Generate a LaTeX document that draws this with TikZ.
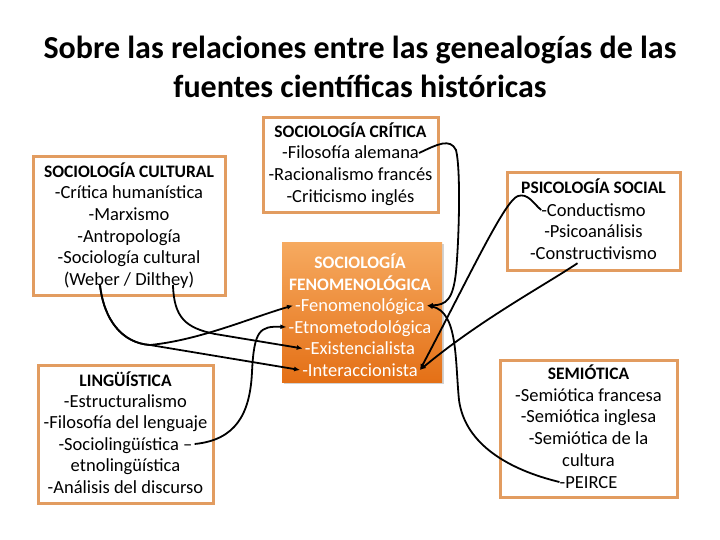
\documentclass[tikz,border=0pt]{standalone}
\usepackage{fontspec}
\setmainfont{Carlito}
\usetikzlibrary{arrows.meta, shadows}
\definecolor{boxorange}{RGB}{226,156,96}
\definecolor{fentop}{RGB}{246,170,96}
\definecolor{fenbot}{RGB}{228,112,22}
\tikzset{
  framebox/.style={draw=boxorange, line width=3pt, fill=white},
  fenbox/.style={draw=none, top color=fentop, bottom color=fenbot,
                 drop shadow={opacity=0.35, shadow xshift=2pt, shadow yshift=-2pt}},
  itemtext/.style={inner sep=0pt, text height=12pt, text depth=0pt,
                   font=\fontsize{18.5}{20}\selectfont},
  headtext/.style={itemtext, font=\fontsize{17.5}{20}\selectfont\bfseries},
  titletext/.style={inner sep=0pt, anchor=base, font=\fontsize{32}{39}\selectfont\bfseries},
  link/.style={line width=1.8pt, -{Latex[length=6pt,width=5pt]}},
}

\begin{document}
\begin{tikzpicture}[x=1pt, y=-1pt]
  \fill[white] (0,0) rectangle (720,540);
  \useasboundingbox (0,0) rectangle (720,540);

  % title
  \node[titletext] (title1) at (360,59) {Sobre las relaciones entre las genealogías de las};
  \node[titletext] (title2) at (360,98) {fuentes científicas históricas};

  % sociologia cultural
  \node[framebox, minimum width=192pt, minimum height=138pt] (cultbox) at (129,226) {};
  \node[headtext] (culthead) at (129,172) {SOCIOLOGÍA CULTURAL};
  \foreach \txt [count=\i] in {-Crítica humanística, -Marxismo, -Antropología,
      -Sociología cultural, (Weber / Dilthey)}
    \node[itemtext] (cult\i) at (129,{171.5+21.5*\i}) {\txt};

  % sociologia critica
  \node[framebox, minimum width=175pt, minimum height=95pt] (critbox) at (350.5,165) {};
  \node[headtext] (crithead) at (350.5,132) {SOCIOLOGÍA CRÍTICA};
  \foreach \txt [count=\i] in {-Filosofía alemana, -Racionalismo francés, -Criticismo inglés}
    \node[itemtext] (crit\i) at (350.5,{131+22*\i}) {\txt};

  % sociologia fenomenologica
  \node[fenbox, minimum width=160pt, minimum height=140pt] (fenbox) at (362,312) {};
  \node[headtext, text=white] (fenhead1) at (360,262) {SOCIOLOGÍA};
  \node[headtext, text=white] (fenhead2) at (360,284) {FENOMENOLÓGICA};
  \foreach \txt [count=\i] in {-Fenomenológica, -Etnometodológica, -Existencialista,
      -Interaccionista}
    \node[itemtext, text=white] (fen\i) at (360,{284+21.5*\i}) {\txt};

  % psicologia social
  \node[framebox, minimum width=173pt, minimum height=97pt] (psicbox) at (593.5,221.5) {};
  \node[headtext] (psichead) at (593.5,188) {PSICOLOGÍA SOCIAL};
  \foreach \txt [count=\i] in {-Conductismo, -Psicoanálisis, -Constructivismo}
    \node[itemtext] (psic\i) at (593.5,{188.5+21.5*\i}) {\txt};

  % linguistica
  \node[framebox, minimum width=175pt, minimum height=138pt] (lingbox) at (125.5,434) {};
  \node[headtext] (linghead) at (125.5,380) {LINGÜÍSTICA};
  \foreach \txt [count=\i] in {-Estructuralismo, -Filosofía del lenguaje,
      -Sociolingüística –, etnolingüística, -Análisis del discurso}
    \node[itemtext] (ling\i) at (125.5,{379.5+21.5*\i}) {\txt};

  % semiotica
  \node[framebox, minimum width=177pt, minimum height=137pt] (sembox) at (588.5,428.5) {};
  \node[headtext] (semhead) at (588.5,373) {SEMIÓTICA};
  \foreach \txt [count=\i] in {-Semiótica francesa, -Semiótica inglesa, -Semiótica de la,
      cultura, -PEIRCE}
    \node[itemtext] (sem\i) at (588.5,{373.25+21.75*\i}) {\txt};

  % connector ends
  \coordinate (weber) at ([xshift=-29pt]cult5.south);
  \coordinate (dilthey) at ([xshift=44pt]cult5.south);
  \coordinate (split) at (150,345);
  \coordinate (constr) at ([xshift=-16pt, yshift=-4pt]psic3.south);

  % left connectors
  \draw[link] (weber) .. controls (104,320) and (122,343) .. (split)
    .. controls (200,340) and (250,318) .. ([xshift=-2pt]fen1.west);
  \draw[link] (weber) .. controls (104,320) and (122,343) .. (split)
    -- ([xshift=-2pt]fen4.west);
  \draw[link] (dilthey) .. controls (174,318) and (186,328) .. (215,334)
    -- ([xshift=-2pt]fen3.west);
  \draw[link] ([xshift=2pt]ling3.east) .. controls (235,440) and (250,415) .. (252,372)
    .. controls (254,330) and (260,326) .. ([xshift=-2pt]fen2.west);

  % right connectors
  \draw[link] (crit1.east) .. controls (438,144) and (450,138) .. (456,150)
    .. controls (461,170) and (459,240) .. (456,272)
    .. controls (453,300) and (446,305) .. ([xshift=2pt]fen1.east);
  \draw[link] (sem5.west) .. controls (510,470) and (465,445) .. (459,400)
    .. controls (455,360) and (458,312) .. ([xshift=2pt]fen1.east);
  \draw[link] (psic1.west) .. controls (533,203) and (528,193) .. (518,196)
    .. controls (505,200) and (470,275) .. ([xshift=2pt]fen4.east);
  \draw[link] (constr) .. controls (545,285) and (480,320) .. ([xshift=2pt]fen4.east);
\end{tikzpicture}
\end{document}
